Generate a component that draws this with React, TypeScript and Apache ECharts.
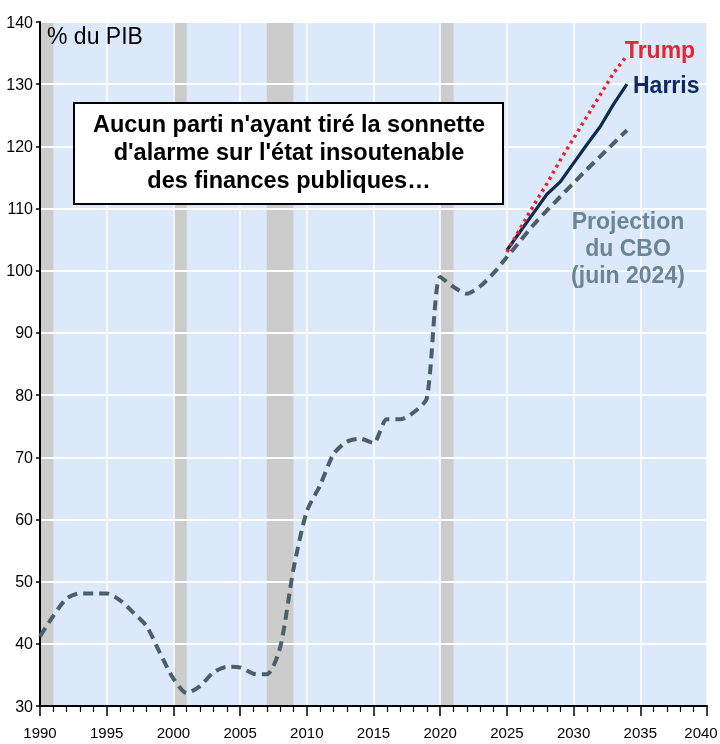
import React, { useEffect, useRef } from "react";
import * as echarts from "echarts";

const cboYears = [
  1990, 1991, 1992, 1993, 1994, 1995, 1996, 1997, 1998, 1999,
  2000, 2001, 2002, 2003, 2004, 2005, 2006, 2007, 2008, 2009,
  2010, 2011, 2012, 2013, 2014, 2015, 2016, 2017, 2018, 2019,
  2020, 2021, 2022, 2023, 2024, 2025, 2026, 2027, 2028, 2029,
  2030, 2031, 2032, 2033, 2034,
];
const cboValues = [
  41.2, 44.5, 47.3, 48.1, 48.1, 48.1, 47.0, 45.0, 42.8, 38.5,
  34.4, 32.1, 33.2, 35.4, 36.3, 36.2, 35.2, 35.1, 39.4, 52.0,
  61.3, 65.5, 70.5, 72.5, 73.0, 72.3, 76.1, 76.1, 77.2, 79.5,
  99.0, 97.4, 96.3, 97.5, 99.6, 102.2, 104.8, 107.4, 109.7, 111.9,
  114.1, 116.3, 118.4, 120.5, 122.6,
];
const projYears = [2025, 2026, 2027, 2028, 2029, 2030, 2031, 2032, 2033, 2034];
const harrisValues = [103.3, 106.3, 109.3, 112.3, 114.3, 117.3, 120.3, 123.2, 126.8, 130.0];
const trumpValues = [103.0, 106.8, 110.5, 114.0, 117.8, 121.3, 124.8, 128.3, 131.8, 134.6];
const recessions: [number, number][] = [
  [1990, 1991],
  [2000, 2001],
  [2007, 2009],
  [2020, 2021],
];
const yTicks = { min: 30, max: 140, interval: 10 };
const xTicks = { min: 1990, max: 2040, interval: 5 };

const narrow = "'Liberation Sans Narrow', 'Arial Narrow', 'Liberation Sans', Arial, sans-serif";
const sans = "'Liberation Sans', Arial, Helvetica, sans-serif";

export default function App() {
  const ref = useRef<HTMLDivElement>(null);
  useEffect(() => {
    if (!ref.current) return;
    const chart = echarts.init(ref.current, undefined, { renderer: "svg" });
    const pair = (xs: number[], ys: number[]) => xs.map((x, i) => [x, ys[i]]);
    chart.setOption({
      animation: false,
      grid: {
        left: 40,
        right: 13,
        top: 22,
        bottom: 38,
        show: true,
        backgroundColor: "#dce9fb",
        borderWidth: 0,
        containLabel: false,
        outerBoundsMode: "none",
        z: 0,
      },
      xAxis: {
        type: "value",
        min: xTicks.min,
        max: xTicks.max,
        interval: xTicks.interval,
        z: 2,
        axisLine: { show: true, onZero: false, lineStyle: { color: "#000", width: 2 } },
        axisTick: { show: true, length: 10, lineStyle: { color: "#000", width: 1.5 } },
        minorTick: { show: true, splitNumber: 5, length: 6, lineStyle: { color: "#000", width: 1.2 } },
        splitLine: { show: true, lineStyle: { color: "#ffffff", width: 1.5 } },
        axisLabel: {
          color: "#000",
          fontFamily: narrow,
          fontSize: 15,
          margin: 19,
          showMinLabel: true,
          showMaxLabel: true,
          hideOverlap: false,
          formatter: (v: number) => (v === xTicks.max ? `{m|${v}}` : String(v)),
          rich: {
            m: { fontFamily: narrow, fontSize: 15, color: "#000", padding: [0, 12, 0, 0] },
          },
        },
      },
      yAxis: {
        type: "value",
        min: yTicks.min,
        max: yTicks.max,
        interval: yTicks.interval,
        z: 2,
        axisLine: { show: true, onZero: false, lineStyle: { color: "#000", width: 2 } },
        axisTick: { show: true, length: 4, lineStyle: { color: "#000", width: 1.5 } },
        splitLine: { show: true, lineStyle: { color: "#ffffff", width: 2 } },
        axisLabel: {
          color: "#000",
          fontFamily: narrow,
          fontSize: 16,
          margin: 7,
          showMinLabel: true,
          showMaxLabel: true,
        },
      },
      series: [
        {
          type: "line",
          name: "bands",
          z: 1,
          data: [],
          silent: true,
          markArea: {
            silent: true,
            itemStyle: { color: "#cccccc", opacity: 1 },
            data: recessions.map(([a, b]) => [{ xAxis: a }, { xAxis: b }]),
          },
        },
        {
          type: "line",
          name: "CBO",
          z: 3,
          data: pair(cboYears, cboValues),
          showSymbol: false,
          smooth: 0.25,
          lineStyle: { color: "#4b5f6b", width: 4, type: [10, 6] },
        },
        {
          type: "line",
          name: "Harris",
          z: 4,
          data: pair(projYears, harrisValues),
          showSymbol: false,
          lineStyle: { color: "#0d2b4d", width: 3.2 },
        },
        {
          type: "line",
          name: "Trump",
          z: 5,
          data: pair(projYears, trumpValues),
          showSymbol: false,
          lineStyle: { color: "#e52530", width: 3.5, type: [3, 4] },
        },
      ],
      graphic: [
        {
          type: "text",
          z: 10,
          left: 47,
          top: 24,
          style: { text: "% du PIB", font: `23px ${sans}`, fill: "#000" },
        },
        {
          type: "rect",
          z: 10,
          shape: { x: 74, y: 103, width: 429, height: 101 },
          style: { fill: "#ffffff", stroke: "#000000", lineWidth: 2 },
        },
        {
          type: "text",
          z: 11,
          style: {
            x: 289,
            y: 110,
            text: "Aucun parti n'ayant tiré la sonnette\nd'alarme sur l'état insoutenable\ndes finances publiques…",
            font: `bold 23.5px ${sans}`,
            lineHeight: 28,
            align: "center",
            verticalAlign: "top",
            fill: "#000",
          },
        },
        {
          type: "text",
          z: 11,
          style: {
            x: 660,
            y: 50,
            text: "Trump",
            font: `bold 23px ${sans}`,
            align: "center",
            verticalAlign: "middle",
            fill: "#e52530",
          },
        },
        {
          type: "text",
          z: 11,
          style: {
            x: 633,
            y: 85,
            text: "Harris",
            font: `bold 23px ${sans}`,
            align: "left",
            verticalAlign: "middle",
            fill: "#0f2a62",
          },
        },
        {
          type: "text",
          z: 11,
          style: {
            x: 628,
            y: 207,
            text: "Projection\ndu CBO\n(juin 2024)",
            font: `bold 23px ${sans}`,
            lineHeight: 27,
            align: "center",
            verticalAlign: "top",
            fill: "#6a8593",
          },
        },
      ],
    });
    return () => chart.dispose();
  }, []);
  return (
    <div
      ref={ref}
      style={{ position: "fixed", left: 0, top: 0, width: 720, height: 744, overflow: "hidden" }}
    />
  );
}
